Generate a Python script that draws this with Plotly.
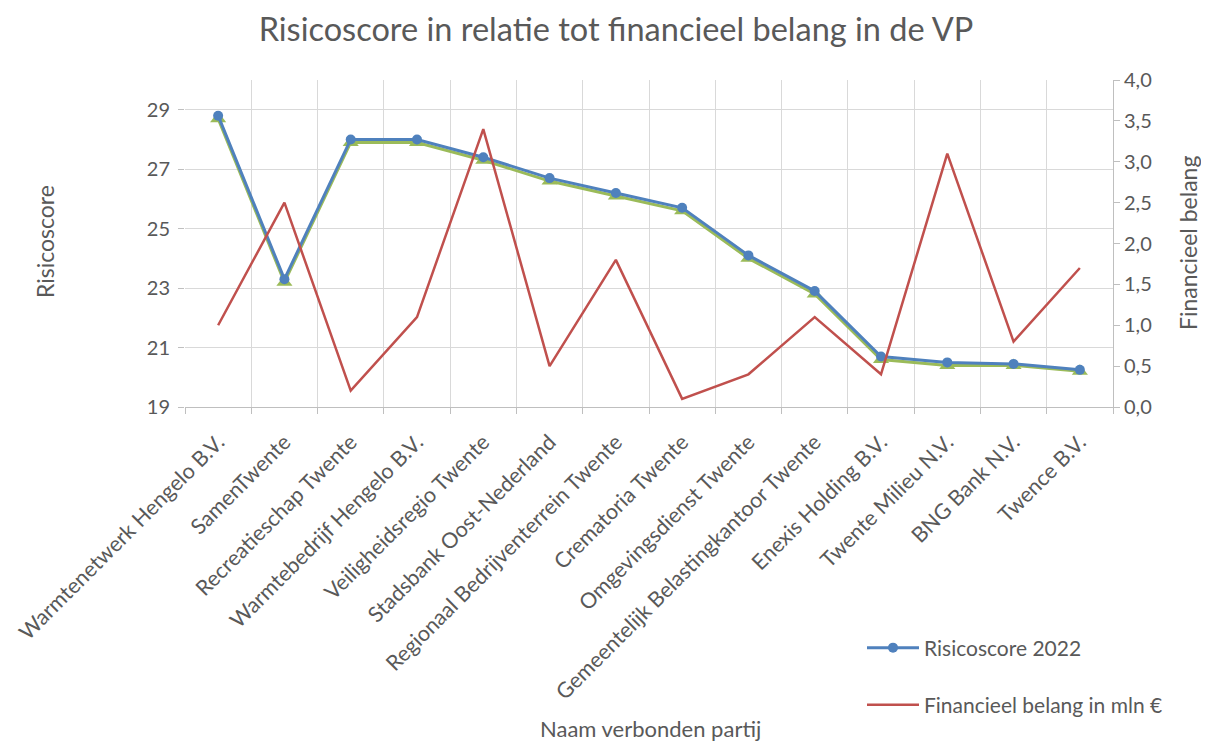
import plotly.graph_objects as go

categories = [
    "Warmtenetwerk Hengelo B.V.", "SamenTwente", "Recreatieschap Twente",
    "Warmtebedrijf Hengelo B.V.", "Veiligheidsregio Twente", "Stadsbank Oost-Nederland",
    "Regionaal Bedrijventerrein Twente", "Crematoria Twente", "Omgevingsdienst Twente",
    "Gemeentelijk Belastingkantoor Twente", "Enexis Holding B.V.", "Twente Milieu N.V.",
    "BNG Bank N.V.", "Twence B.V.",
]
risicoscore_2022 = [28.8, 23.3, 28.0, 28.0, 27.4, 26.7, 26.2, 25.7, 24.1, 22.9, 20.7, 20.5, 20.45, 20.25]
risicoscore_green = [28.7, 23.2, 27.9, 27.9, 27.3, 26.6, 26.1, 25.6, 24.0, 22.8, 20.6, 20.4, 20.4, 20.2]
financieel_belang = [1.0, 2.5, 0.2, 1.1, 3.4, 0.5, 1.8, 0.1, 0.4, 1.1, 0.4, 3.1, 0.8, 1.7]

xs = list(range(len(categories)))
FONT = "Lato, 'Open Sans', sans-serif"
GRAY = "#595959"

OFF = 8  # page body margin
W, H = 1209 - OFF, 742 - OFF
L, R, T, B = 185 - OFF, 1113 - OFF, 80 - OFF, 407 - OFF


def px(xp):
    return (xp - OFF - L) / (R - L)


def py(yp):
    return (B - (yp - OFF)) / (B - T)


fig = go.Figure()
fig.add_trace(go.Scatter(
    x=xs, y=risicoscore_green, mode="lines+markers", showlegend=False,
    line=dict(color="#9bbb59", width=3),
    marker=dict(symbol="triangle-up", size=14, color="#9bbb59"),
))
fig.add_trace(go.Scatter(
    x=xs, y=risicoscore_2022, mode="lines+markers", name="Risicoscore 2022",
    line=dict(color="#4f81bd", width=3),
    marker=dict(symbol="circle", size=10, color="#4f81bd"),
    legend="legend",
))
fig.add_trace(go.Scatter(
    x=xs, y=financieel_belang, mode="lines", name="Financieel belang in mln €",
    line=dict(color="#c0504d", width=2.5), yaxis="y2", legend="legend2",
))

fig.update_layout(
    width=W, height=H,
    margin=dict(l=L, r=W - R, t=T, b=H - B, autoexpand=False),
    paper_bgcolor="white", plot_bgcolor="white",
    separators=",.",
    font=dict(family=FONT, color=GRAY, size=16),
    title=dict(text="Risicoscore in relatie tot financieel belang in de VP",
               x=(616 - OFF) / W, xanchor="center", y=1 - (30 - OFF) / H, yanchor="middle",
               font=dict(size=32.5, color=GRAY, family=FONT)),
    xaxis=dict(
        range=[-0.5, len(categories) - 0.5], automargin=False,
        tickmode="array", tickvals=xs, ticktext=categories,
        tickangle=-45, showgrid=False, ticks="", ticklabelstandoff=13,
        tickfont=dict(size=21.5, color=GRAY),
        showline=True, linecolor="#bfbfbf", linewidth=1,
        minor=dict(tickvals=[i - 0.5 for i in range(len(categories) + 1)],
                   showgrid=True, gridcolor="#d9d9d9", gridwidth=1,
                   ticks="outside", ticklen=6, tickcolor="#bfbfbf"),
        zeroline=False,
    ),
    yaxis=dict(
        range=[19, 30], tickvals=[19, 21, 23, 25, 27, 29], automargin=False,
        showgrid=True, gridcolor="#d9d9d9", gridwidth=1,
        ticks="outside", ticklen=6, tickcolor="#bfbfbf", ticklabelstandoff=4,
        tickfont=dict(size=20, color=GRAY), zeroline=False, showline=False,
    ),
    yaxis2=dict(
        range=[0, 4], dtick=0.5, tickformat=".1f", overlaying="y", side="right",
        showgrid=False, showline=True, linecolor="#bfbfbf", automargin=False,
        ticks="outside", ticklen=6, tickcolor="#bfbfbf",
        tickfont=dict(size=20, color=GRAY), zeroline=False,
    ),
    legend=dict(x=px(862), y=py(648), xanchor="left", yanchor="middle", itemwidth=52,
                bgcolor="rgba(0,0,0,0)", font=dict(size=21, color=GRAY)),
    legend2=dict(x=px(862), y=py(705), xanchor="left", yanchor="middle", itemwidth=52,
                 bgcolor="rgba(0,0,0,0)", font=dict(size=21, color=GRAY)),
    annotations=[
        dict(text="Naam verbonden partij", x=px(650), y=py(728), xref="paper", yref="paper",
             xanchor="center", yanchor="middle", showarrow=False,
             font=dict(size=22, color=GRAY)),
        dict(text="Risicoscore", x=px(45), y=py(242), xref="paper", yref="paper",
             xanchor="center", yanchor="middle", showarrow=False, textangle=-90,
             font=dict(size=23, color=GRAY)),
        dict(text="Financieel belang", x=px(1188), y=py(243), xref="paper", yref="paper",
             xanchor="center", yanchor="middle", showarrow=False, textangle=-90,
             font=dict(size=23, color=GRAY)),
    ],
)

fig.write_html("out.html")
